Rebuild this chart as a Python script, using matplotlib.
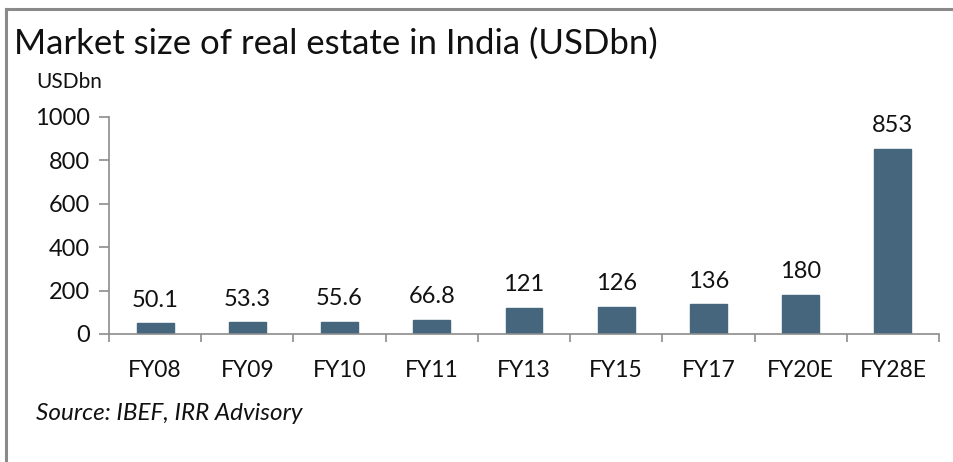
import matplotlib
matplotlib.use("Agg")
import matplotlib.pyplot as plt
from matplotlib.lines import Line2D
import numpy as np

categories = ["FY08", "FY09", "FY10", "FY11", "FY13", "FY15", "FY17", "FY20E", "FY28E"]
values = [50.1, 53.3, 55.6, 66.8, 121, 126, 136, 180, 853]
value_labels = ["50.1", "53.3", "55.6", "66.8", "121", "126", "136", "180", "853"]
yticks = [0, 200, 400, 600, 800, 1000]

plt.rcParams['font.family'] = ['Lato', 'DejaVu Sans']

W, H = 954, 462
fig = plt.figure(figsize=(W / 100, H / 100), dpi=100)
fig.patch.set_facecolor("white")

ax = fig.add_axes([109 / W, 1 - 334 / H, (939 - 109) / W, (334 - 117) / H])
x = np.arange(len(categories))
bar_color = "#45667D"
ax.bar(x, values, width=0.40, color=bar_color, edgecolor=bar_color, zorder=2)

ax.set_xlim(-0.5, len(categories) - 0.5)
ax.set_ylim(0, 1000)
ax.set_yticks(yticks)
ax.set_yticklabels([str(t) for t in yticks], fontsize=17, color="#111111")
ax.set_xticks(x)
ax.set_xticklabels(categories, fontsize=16.5, color="#111111")
ax.set_xticks(np.arange(-0.5, len(categories), 1), minor=True)

axis_color = "#8C8C8C"
for s in ["top", "right"]:
    ax.spines[s].set_visible(False)
for s in ["left", "bottom"]:
    ax.spines[s].set_color(axis_color)
    ax.spines[s].set_linewidth(1.2)

ax.tick_params(axis="y", length=7, width=1.2, color=axis_color, pad=7, direction="out")
ax.tick_params(axis="x", which="major", length=0, pad=19)
ax.tick_params(axis="x", which="minor", length=6, width=1.2, color=axis_color, direction="out")

for xi, v, lab in zip(x, values, value_labels):
    ax.annotate(lab, (xi, v), xytext=(0, 9), textcoords="offset points",
                ha="center", va="bottom", fontsize=17, color="#111111")

fig.text(14 / W, 1 - 44 / H, "Market size of real estate in India (USDbn)",
         fontsize=25, ha="left", va="center", color="#111111")
fig.text(36 / W, 1 - 82 / H, "USDbn", fontsize=15, ha="left", va="center", color="#111111")
fig.text(36 / W, 1 - 414 / H, "Source: IBEF, IRR Advisory", fontsize=17.5, style="italic",
         ha="left", va="center", color="#111111")

border = "#8A8A8A"
fig.add_artist(Line2D([6 / W, 1.0], [1 - 9 / H, 1 - 9 / H], color=border, lw=2.2, transform=fig.transFigure))
fig.add_artist(Line2D([6 / W, 6 / W], [1 - 9 / H, 0.0], color=border, lw=2.2, transform=fig.transFigure))

fig.savefig("out.png", dpi=100, facecolor="white")
